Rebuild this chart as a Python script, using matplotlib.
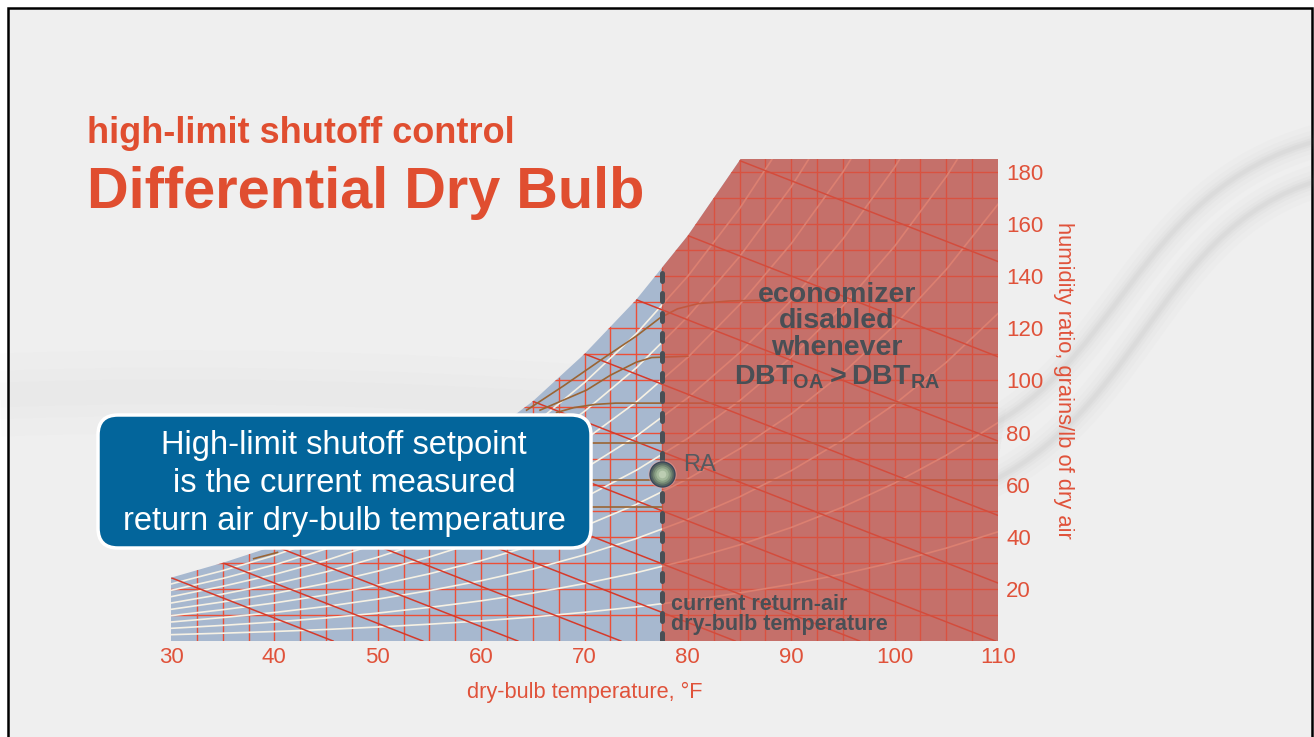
import numpy as np
import matplotlib.pyplot as plt
from matplotlib.patches import Polygon, FancyBboxPatch, Rectangle, PathPatch
from matplotlib.path import Path

plt.rcParams['font.family'] = ['Liberation Sans', 'DejaVu Sans']
plt.rcParams['mathtext.fontset'] = 'custom'
plt.rcParams['mathtext.rm'] = 'Liberation Sans'
plt.rcParams['mathtext.bf'] = 'Liberation Sans:bold'

# saturation line: dry-bulb (°F) vs humidity ratio (grains/lb dry air)
sat_temp = [30, 35, 40, 45, 50, 55, 60, 65, 70, 75, 80, 85, 90, 95, 100, 105, 110]
sat_grains = [24.3, 30.0, 36.5, 44.2, 53.6, 64.5, 77.1, 92.0, 110.2, 131.0,
              155.6, 184.4, 217.9, 257.2, 303.0, 356.5, 419.1]

rh_levels = [10, 20, 30, 40, 50, 60, 70, 80, 90]
wetbulb_temps = [30, 35, 40, 45, 50, 55, 60, 65, 70, 75, 80, 85]
grid_temps = np.arange(32.5, 110, 2.5)
grid_grains = np.arange(10, 190, 10)

temp_ticks = [30, 40, 50, 60, 70, 80, 90, 100, 110]
grain_ticks = [20, 40, 60, 80, 100, 120, 140, 160, 180]

return_air_temp = 77.5
return_air_grains = 64
chart_top = 185
wetbulb_slope = 1.55  # grains per °F along a wet-bulb line

brown_curves = [
    [(64.4, 88.6), (68.0, 98.0), (72.0, 109.0), (75.0, 117.0), (77.3, 124.0),
     (79.0, 127.5), (81.0, 129.5), (84.0, 130.5), (87.0, 130.8)],
    [(65.7, 88.6), (70.2, 96.3), (72.5, 102.0), (75.0, 107.0), (76.5, 108.8), (80.0, 109.3)],
    [(67.3, 87.7), (69.0, 89.6), (71.0, 90.8), (73.0, 91.3), (110.0, 91.3)],
    [(62.0, 76.0), (110.0, 76.0)],
    [(57.0, 61.8), (110.0, 61.8)],
    [(53.0, 51.4), (77.5, 51.4)],
    [(38.0, 31.6), (40.3, 34.0)],
]

ORANGE = '#e0523a'
SLATE = '#4a4f55'

fig = plt.figure(figsize=(13.14, 7.37), dpi=100)
fig.patch.set_facecolor('white')

# slide background with the grey swoosh on the right
bg = fig.add_axes([0, 0, 1, 1], zorder=0)
bg.set_xlim(0, 1314)
bg.set_ylim(737, 0)
bg.axis('off')
bg.add_patch(Rectangle((8, 8), 1304, 740, facecolor='#efefef', edgecolor='black', lw=1.8))

swooshes = [
    [(960, 440), (1120, 380), (1130, 190), (1320, 140)],
    [(960, 495), (1140, 430), (1150, 230), (1320, 180)],
]
for pts in swooshes:
    path = Path(pts, [Path.MOVETO, Path.CURVE4, Path.CURVE4, Path.CURVE4])
    for lw, a in [(24, 0.018), (16, 0.025), (10, 0.03), (6, 0.035), (3, 0.04)]:
        bg.add_patch(PathPatch(path, fill=False, edgecolor='#707070', lw=lw, alpha=a,
                               capstyle='round'))
band = Path([(0, 395), (400, 380), (800, 420), (1000, 450)],
            [Path.MOVETO, Path.CURVE4, Path.CURVE4, Path.CURVE4])
for lw, a in [(60, 0.01), (35, 0.012), (18, 0.012)]:
    bg.add_patch(PathPatch(band, fill=False, edgecolor='#808080', lw=lw, alpha=a))

# psychrometric chart
ax = fig.add_axes([171 / 1314, 96 / 737, 827 / 1314, 482 / 737], zorder=1)
ax.set_xlim(30, 110)
ax.set_ylim(0, chart_top)
ax.patch.set_alpha(0)
for s in ax.spines.values():
    s.set_visible(False)

t_top = np.interp(chart_top, sat_grains, sat_temp)
under = [(t, w) for t, w in zip(sat_temp, sat_grains) if w < chart_top]
outline = [(30, 0)] + under + [(t_top, chart_top), (110, chart_top), (110, 0)]
chart_shape = Polygon(outline, closed=True, facecolor='#a7b8cf', edgecolor='none', zorder=1)
ax.add_patch(chart_shape)

def clipped(lines):
    for ln in lines:
        ln.set_clip_path(chart_shape)

# dry-bulb and humidity-ratio grid
for t in grid_temps:
    top = min(np.interp(t, sat_temp, sat_grains), chart_top)
    clipped(ax.plot([t, t], [0, top], color='#ec4f37', lw=1.0, zorder=2))
for w in grid_grains:
    start = np.interp(w, sat_grains, sat_temp)
    clipped(ax.plot([start - 0.6, 110], [w, w], color='#ec4f37', lw=1.0, zorder=2))

# relative humidity curves
sat_arr = np.array(sat_grains)
for rh in rh_levels:
    clipped(ax.plot(sat_temp, sat_arr * rh / 100, color='#f6f1e4', lw=1.2, zorder=3))

# wet-bulb lines
for t in wetbulb_temps:
    w0 = np.interp(t, sat_temp, sat_grains)
    clipped(ax.plot([t, t + w0 / wetbulb_slope], [w0, 0], color='#d63a2a', lw=1.1, zorder=3))

for curve in brown_curves:
    xs, ys = zip(*curve)
    clipped(ax.plot(xs, ys, color='#9a6534', lw=1.2, zorder=4))

# region where the economizer is locked out
ra_sat = np.interp(return_air_temp, sat_temp, sat_grains)
red_outline = ([(return_air_temp, 0), (return_air_temp, ra_sat)]
               + [(t, w) for t, w in under if t > return_air_temp]
               + [(t_top, chart_top), (110, chart_top), (110, 0)])
ax.add_patch(Polygon(red_outline, closed=True, facecolor='#d25444', alpha=0.72,
                     edgecolor='none', zorder=5))

ax.plot([return_air_temp, return_air_temp], [0, ra_sat], color=SLATE, lw=3.6,
        dashes=(1.6, 2.4), dash_capstyle='round', zorder=7)

# return-air state point
for s, c in [(420, '#e8a8a0'), (360, '#3b475a'), (290, '#53635f'), (210, '#6f8270'),
             (140, '#8aa085'), (80, '#a3b99b'), (30, '#bccdb2')]:
    ax.scatter([return_air_temp], [return_air_grains], s=s, color=c, lw=0, zorder=8,
               alpha=0.5 if s == 420 else 1)
ax.text(79.5, 65.2, 'RA', fontsize=17, color='#555a60', va='baseline', zorder=9)

for txt, yb in [('economizer', 130.1), ('disabled', 120.1), ('whenever', 109.7)]:
    ax.text(94.4, yb, txt, fontsize=20.5, fontweight='bold', color=SLATE,
            ha='center', va='baseline', zorder=9)
ax.text(94.4, 98.6, r'$\mathbf{DBT}_{\mathbf{OA}}\mathbf{>}\mathbf{DBT}_{\mathbf{RA}}$',
        fontsize=20.5, color=SLATE, ha='center', va='baseline', zorder=9)
ax.text(78.4, 11.9, 'current return-air', fontsize=15.5, fontweight='bold', color=SLATE,
        va='baseline', zorder=9)
ax.text(78.4, 4.2, 'dry-bulb temperature', fontsize=15.5, fontweight='bold', color=SLATE,
        va='baseline', zorder=9)

ax.set_xticks(temp_ticks)
ax.set_yticks(grain_ticks)
ax.yaxis.tick_right()
ax.tick_params(axis='x', length=0, pad=4, labelsize=16, labelcolor=ORANGE)
ax.tick_params(axis='y', length=0, pad=6, labelsize=16, labelcolor=ORANGE)
ax.set_xlabel('dry-bulb temperature, °F', fontsize=15.7, color=ORANGE, labelpad=10)
ax.text(1.0786, 0.5415, 'humidity ratio, grains/lb of dry air', transform=ax.transAxes,
        rotation=-90, fontsize=15.8, color=ORANGE, ha='center', va='center')

# headings and callout
top = fig.add_axes([0, 0, 1, 1], zorder=2)
top.set_xlim(0, 1314)
top.set_ylim(737, 0)
top.axis('off')
top.text(87, 143, 'high-limit shutoff control', fontsize=26, fontweight='bold',
         color='#e04e30', va='baseline')
top.text(87, 208, 'Differential Dry Bulb', fontsize=41.5, fontweight='bold',
         color='#e04e30', va='baseline')

top.add_patch(FancyBboxPatch((98, 415), 493, 133, boxstyle='round,pad=0,rounding_size=20',
                             facecolor='#03659b', edgecolor='white', lw=2.5))
for txt, yb in [('High-limit shutoff setpoint', 454), ('is the current measured', 492),
                ('return air dry-bulb temperature', 530)]:
    top.text(344, yb, txt, fontsize=23.5, color='white', ha='center', va='baseline')

fig.savefig('out.png', dpi=100, facecolor=fig.get_facecolor())
